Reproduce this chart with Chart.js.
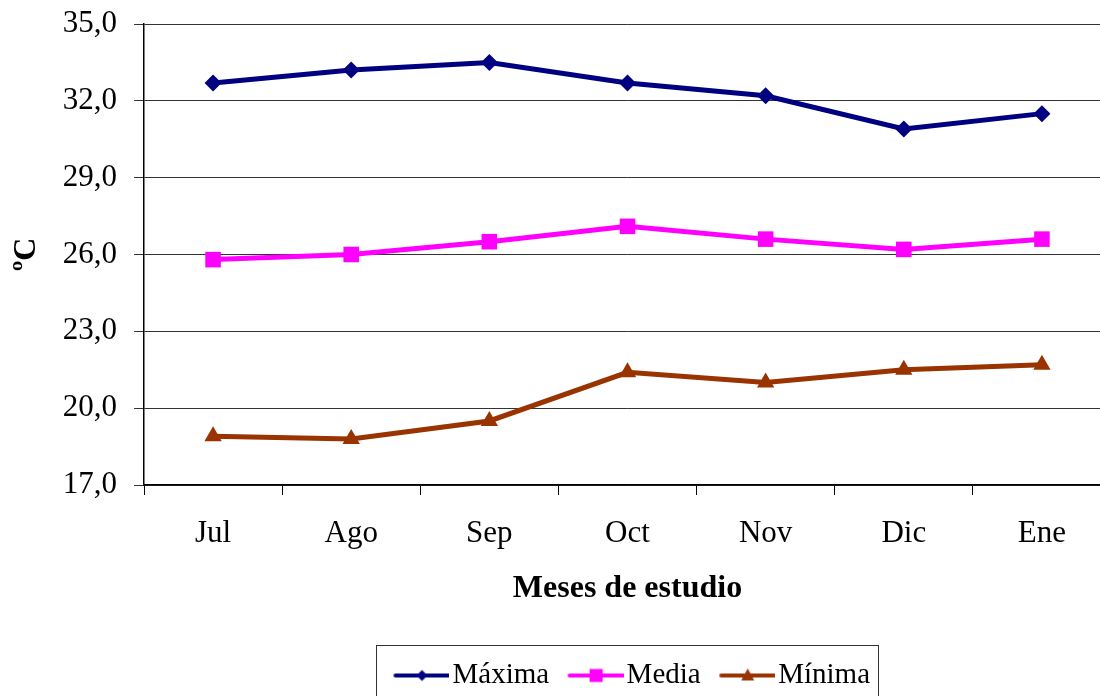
<!DOCTYPE html>
<html>
<head>
<meta charset="utf-8">
<script src="https://cdn.jsdelivr.net/npm/chart.js@4.4.1/dist/chart.umd.min.js"></script>
<style>
  html, body { margin: 0; padding: 0; background: #fff; overflow: hidden; }
  #wrap { width: 1122px; height: 710px; }
</style>
</head>
<body>
<div id="wrap"><canvas id="c" width="1122" height="710"></canvas></div>
<script>
// Monthly temperatures (°C) over the study period
const months = ['Jul', 'Ago', 'Sep', 'Oct', 'Nov', 'Dic', 'Ene'];
const maxima = [32.7, 33.2, 33.5, 32.7, 32.2, 30.9, 31.5];
const media  = [25.8, 26.0, 26.5, 27.1, 26.6, 26.2, 26.6];
const minima = [18.9, 18.8, 19.5, 21.4, 21.0, 21.5, 21.7];
const yTicks = [17, 20, 23, 26, 29, 32, 35];

const SERIF = "'Liberation Serif', 'Times New Roman', serif";
const NAVY = '#000080', MAGENTA = '#FF00FF', BROWN = '#993300';

// Legend swatch: a short line with the series marker on top.
// The line sits in the right part of the image so that it runs up to the label.
function swatch(color, marker) {
  const cv = document.createElement('canvas');
  cv.width = 76; cv.height = 20;
  const g = cv.getContext('2d');
  g.strokeStyle = color; g.lineWidth = 4; g.lineCap = 'round';
  g.beginPath(); g.moveTo(22, 10); g.lineTo(75, 10); g.stroke();
  g.fillStyle = color;
  const cx = 48.5;
  g.beginPath();
  if (marker === 'diamond') {
    g.moveTo(cx, 4.5); g.lineTo(cx + 5.5, 10); g.lineTo(cx, 15.5); g.lineTo(cx - 5.5, 10);
  } else if (marker === 'square') {
    g.rect(cx - 6.5, 3.5, 13, 13);
  } else {
    g.moveTo(cx, 3); g.lineTo(cx + 6.5, 15); g.lineTo(cx - 6.5, 15);
  }
  g.closePath(); g.fill();
  return cv;
}

// Frame drawn around the legend row
const legendBorder = {
  id: 'legendBorder',
  afterDraw(chart) {
    const lg = chart.legend;
    if (!lg || !lg.legendHitBoxes || !lg.legendHitBoxes.length) return;
    const hb = lg.legendHitBoxes;
    const l = Math.min(...hb.map(b => b.left)) - 9;
    const r = Math.max(...hb.map(b => b.left + b.width)) + 8;
    const ctx = chart.ctx;
    ctx.save();
    ctx.strokeStyle = '#333';
    ctx.lineWidth = 1;
    ctx.strokeRect(Math.round(l) + 0.5, Math.round(lg.top) - 6 + 0.5, Math.round(r - l), chart.height);
    ctx.restore();
  }
};

new Chart(document.getElementById('c'), {
  type: 'line',
  data: {
    labels: months,
    datasets: [
      { label: 'Máxima', data: maxima, borderColor: NAVY, backgroundColor: NAVY,
        pointStyle: 'rectRot', pointRadius: 8.5, legendSwatch: swatch(NAVY, 'diamond') },
      { label: 'Media', data: media, borderColor: MAGENTA, backgroundColor: MAGENTA,
        pointStyle: 'rect', pointRadius: 11, legendSwatch: swatch(MAGENTA, 'square') },
      { label: 'Mínima', data: minima, borderColor: BROWN, backgroundColor: BROWN,
        pointStyle: 'triangle', pointRadius: 10, legendSwatch: swatch(BROWN, 'triangle') }
    ].map(d => Object.assign({ borderWidth: 5, pointBorderWidth: 0, tension: 0, fill: false }, d))
  },
  options: {
    responsive: false,
    animation: false,
    devicePixelRatio: 1,
    layout: { padding: { top: 24, left: 0, right: 1, bottom: 10 } },
    plugins: {
      tooltip: { enabled: false },
      legend: {
        position: 'bottom',
        fullSize: false,
        labels: {
          usePointStyle: true,
          pointStyleWidth: 53,
          padding: 10,
          color: '#000',
          font: { family: SERIF, size: 29 },
          generateLabels(chart) {
            return chart.data.datasets.map((ds, i) => ({
              text: ds.label,
              pointStyle: ds.legendSwatch,
              fillStyle: ds.borderColor,
              strokeStyle: ds.borderColor,
              lineWidth: 0,
              hidden: false,
              datasetIndex: i,
              fontColor: '#000'
            }));
          }
        }
      }
    },
    scales: {
      x: {
        offset: true,
        afterFit(s) { s.height = 166; },
        grid: { offset: true, drawOnChartArea: false, drawTicks: true, tickLength: 10, color: '#000' },
        border: { display: true, color: '#000', width: 1.5 },
        ticks: { color: '#000', font: { family: SERIF, size: 31 }, padding: 20, maxRotation: 0 },
        title: { display: true, text: 'Meses de estudio', color: '#000',
                 font: { family: SERIF, size: 32, weight: 'bold' }, padding: { top: 0, bottom: 43 } }
      },
      y: {
        min: 17, max: 35,
        afterFit(s) { s.width = 144; s.paddingTop = 0; s.paddingBottom = 0; },
        afterBuildTicks(s) { s.ticks = yTicks.map(v => ({ value: v })); },
        grid: { color: '#333', lineWidth: 1, tickLength: 10, drawTicks: true },
        border: { display: true, color: '#000', width: 1.5 },
        ticks: {
          color: '#000', font: { family: SERIF, size: 31 }, padding: 17,
          callback: v => v.toFixed(1).replace('.', ',')
        },
        title: { display: true, text: 'ºC', color: '#000',
                 font: { family: SERIF, size: 32, weight: 'bold' }, padding: { top: 8, bottom: 0 } }
      }
    }
  },
  plugins: [legendBorder]
});
</script>
</body>
</html>
